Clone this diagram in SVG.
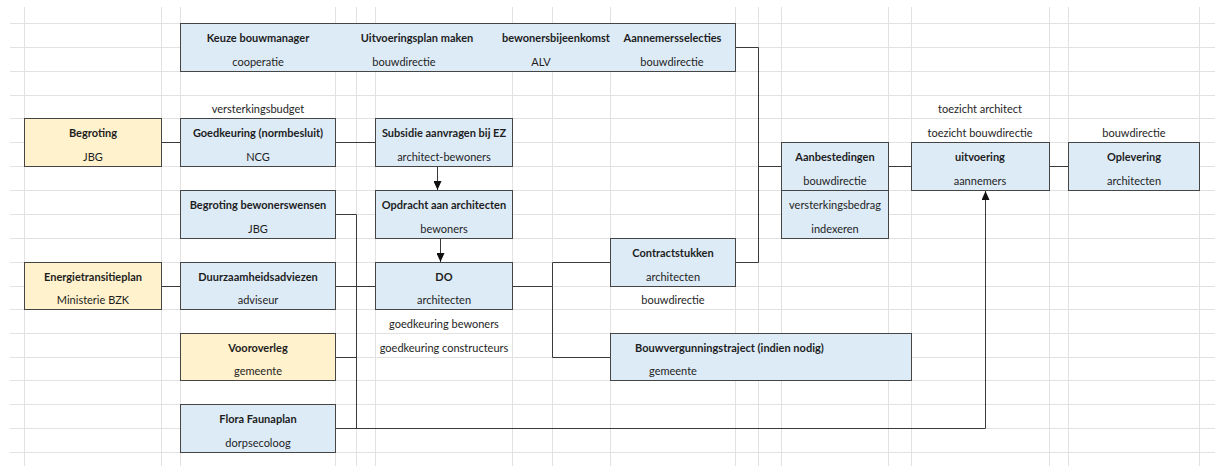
<svg xmlns="http://www.w3.org/2000/svg" width="1215" height="466" viewBox="0 0 1215 466">
<style>
.grid line{stroke:#e2e2e2;stroke-width:1}
.blue{fill:#ddebf7;stroke:#454545;stroke-width:1}
.yellow{fill:#fff2cc;stroke:#454545;stroke-width:1}
text{font-family:Lato,"Liberation Sans",sans-serif;font-size:11px;fill:#1e1e1e;text-anchor:middle}
.b{font-weight:bold}
.l{text-anchor:start}
.conn path{fill:none;stroke:#3a3a3a;stroke-width:1}
</style>
<defs>
<marker id="arr" markerUnits="userSpaceOnUse" markerWidth="9" markerHeight="8" refX="9" refY="4" orient="auto" viewBox="0 0 9 8">
<path d="M0,0 L9,4 L0,8 z" fill="#111"/>
</marker>
</defs>
<rect width="1215" height="466" fill="#ffffff"/>
<g class="grid">
<line x1="24.5" y1="7" x2="24.5" y2="466"/>
<line x1="161.5" y1="7" x2="161.5" y2="466"/>
<line x1="180.5" y1="7" x2="180.5" y2="466"/>
<line x1="335.5" y1="7" x2="335.5" y2="466"/>
<line x1="356.5" y1="7" x2="356.5" y2="466"/>
<line x1="375.5" y1="7" x2="375.5" y2="466"/>
<line x1="512.5" y1="7" x2="512.5" y2="466"/>
<line x1="552.5" y1="7" x2="552.5" y2="466"/>
<line x1="610.5" y1="7" x2="610.5" y2="466"/>
<line x1="735.5" y1="7" x2="735.5" y2="466"/>
<line x1="758.5" y1="7" x2="758.5" y2="466"/>
<line x1="781.5" y1="7" x2="781.5" y2="466"/>
<line x1="888.5" y1="7" x2="888.5" y2="466"/>
<line x1="911.5" y1="7" x2="911.5" y2="466"/>
<line x1="1049.5" y1="7" x2="1049.5" y2="466"/>
<line x1="1068.5" y1="7" x2="1068.5" y2="466"/>
<line x1="1199.5" y1="7" x2="1199.5" y2="466"/>
<line x1="10" y1="23.5" x2="1215" y2="23.5"/>
<line x1="10" y1="47.5" x2="1215" y2="47.5"/>
<line x1="10" y1="71.5" x2="1215" y2="71.5"/>
<line x1="10" y1="95.5" x2="1215" y2="95.5"/>
<line x1="10" y1="118.5" x2="1215" y2="118.5"/>
<line x1="10" y1="142.5" x2="1215" y2="142.5"/>
<line x1="10" y1="166.5" x2="1215" y2="166.5"/>
<line x1="10" y1="190.5" x2="1215" y2="190.5"/>
<line x1="10" y1="214.5" x2="1215" y2="214.5"/>
<line x1="10" y1="238.5" x2="1215" y2="238.5"/>
<line x1="10" y1="262.5" x2="1215" y2="262.5"/>
<line x1="10" y1="286.5" x2="1215" y2="286.5"/>
<line x1="10" y1="309.5" x2="1215" y2="309.5"/>
<line x1="10" y1="333.5" x2="1215" y2="333.5"/>
<line x1="10" y1="357.5" x2="1215" y2="357.5"/>
<line x1="10" y1="380.5" x2="1215" y2="380.5"/>
<line x1="10" y1="404.5" x2="1215" y2="404.5"/>
<line x1="10" y1="428.5" x2="1215" y2="428.5"/>
<line x1="10" y1="452.5" x2="1215" y2="452.5"/>
</g>
<g class="conn">
<path d="M161.5,142.5 H180.5"/>
<path d="M335.5,142.5 H375.5"/>
<path d="M437.5,166.5 V190" marker-end="url(#arr)"/>
<path d="M440.5,238.5 V262" marker-end="url(#arr)"/>
<path d="M161.5,286.5 H180.5"/>
<path d="M335.5,286.5 H375.5"/>
<path d="M335.5,214.5 H356.5 V428.5"/>
<path d="M335.5,357.5 H356.5"/>
<path d="M335.5,428.5 H985.5 V191" marker-end="url(#arr)"/>
<path d="M512.5,286.5 H552.5 V262.5 H610.5"/>
<path d="M552.5,286.5 V357.5 H610.5"/>
<path d="M735.5,47.5 H758.5 V262.5 H735.5"/>
<path d="M758.5,166.5 H781.5"/>
<path d="M888.5,166.5 H911.5"/>
<path d="M1049.5,166.5 H1068.5"/>
</g>
<g id="top-box">
<rect class="blue" x="180.5" y="23.5" width="555" height="48"/>
<text class="b" x="258" y="41.5">Keuze bouwmanager</text>
<text x="258" y="65.5">cooperatie</text>
<text class="b" x="417" y="41.5">Uitvoeringsplan maken</text>
<text x="404" y="65.5">bouwdirectie</text>
<text class="b" x="556" y="41.5">bewonersbijeenkomst</text>
<text x="541" y="65.5">ALV</text>
<text class="b" x="672.5" y="41.5">Aannemersselecties</text>
<text x="672" y="65.5">bouwdirectie</text>
</g>
<g id="label-versterkingsbudget"><text x="258" y="112.5">versterkingsbudget</text></g>
<g id="begroting">
<rect class="yellow" x="24.5" y="118.5" width="137" height="48"/>
<text class="b" x="93" y="136.5">Begroting</text>
<text x="93" y="160.5">JBG</text>
</g>
<g id="goedkeuring">
<rect class="blue" x="180.5" y="118.5" width="155" height="48"/>
<text class="b" x="258" y="136.5">Goedkeuring (normbesluit)</text>
<text x="258" y="160.5">NCG</text>
</g>
<g id="subsidie">
<rect class="blue" x="375.5" y="118.5" width="137" height="48"/>
<text class="b" x="444" y="136.5">Subsidie aanvragen bij EZ</text>
<text x="444" y="160.5">architect-bewoners</text>
</g>
<g id="begroting-bewonerswensen">
<rect class="blue" x="180.5" y="190.5" width="155" height="48"/>
<text class="b" x="258" y="208.5">Begroting bewonerswensen</text>
<text x="258" y="232.5">JBG</text>
</g>
<g id="opdracht">
<rect class="blue" x="375.5" y="190.5" width="137" height="48"/>
<text class="b" x="444" y="208.5">Opdracht aan architecten</text>
<text x="444" y="232.5">bewoners</text>
</g>
<g id="energietransitieplan">
<rect class="yellow" x="24.5" y="262.5" width="137" height="47"/>
<text class="b" x="93" y="280.5">Energietransitieplan</text>
<text x="93" y="303.5">Ministerie BZK</text>
</g>
<g id="duurzaamheidsadviezen">
<rect class="blue" x="180.5" y="262.5" width="155" height="47"/>
<text class="b" x="258" y="280.5">Duurzaamheidsadviezen</text>
<text x="258" y="303.5">adviseur</text>
</g>
<g id="do">
<rect class="blue" x="375.5" y="262.5" width="137" height="47"/>
<text class="b" x="444" y="280.5">DO</text>
<text x="444" y="303.5">architecten</text>
<text x="444" y="327.5">goedkeuring bewoners</text>
<text x="444" y="351.5">goedkeuring constructeurs</text>
</g>
<g id="vooroverleg">
<rect class="yellow" x="180.5" y="333.5" width="155" height="47"/>
<text class="b" x="258" y="351.5">Vooroverleg</text>
<text x="258" y="374.5">gemeente</text>
</g>
<g id="flora-faunaplan">
<rect class="blue" x="180.5" y="404.5" width="155" height="48"/>
<text class="b" x="258" y="422.5">Flora Faunaplan</text>
<text x="258" y="446.5">dorpsecoloog</text>
</g>
<g id="contractstukken">
<rect class="blue" x="610.5" y="238.5" width="125" height="48"/>
<text class="b" x="673" y="256.5">Contractstukken</text>
<text x="673" y="280.5">architecten</text>
<text x="673" y="303.5">bouwdirectie</text>
</g>
<g id="bouwvergunningstraject">
<rect class="blue" x="610.5" y="333.5" width="301" height="47"/>
<text class="b l" x="635" y="351.5">Bouwvergunningstraject (indien nodig)</text>
<text class="l" x="649" y="374.5">gemeente</text>
</g>
<g id="aanbestedingen">
<rect class="blue" x="781.5" y="142.5" width="107" height="48"/>
<rect class="blue" x="781.5" y="190.5" width="107" height="48"/>
<text class="b" x="835" y="160.5">Aanbestedingen</text>
<text x="835" y="184.5">bouwdirectie</text>
<text x="835" y="208.5">versterkingsbedrag</text>
<text x="835" y="232.5">indexeren</text>
</g>
<g id="uitvoering">
<text x="980" y="112.5">toezicht architect</text>
<text x="980" y="136.5">toezicht bouwdirectie</text>
<rect class="blue" x="911.5" y="142.5" width="138" height="48"/>
<text class="b" x="980" y="160.5">uitvoering</text>
<text x="980" y="184.5">aannemers</text>
</g>
<g id="oplevering">
<text x="1134" y="136.5">bouwdirectie</text>
<rect class="blue" x="1068.5" y="142.5" width="131" height="48"/>
<text class="b" x="1134" y="160.5">Oplevering</text>
<text x="1134" y="184.5">architecten</text>
</g>
</svg>
